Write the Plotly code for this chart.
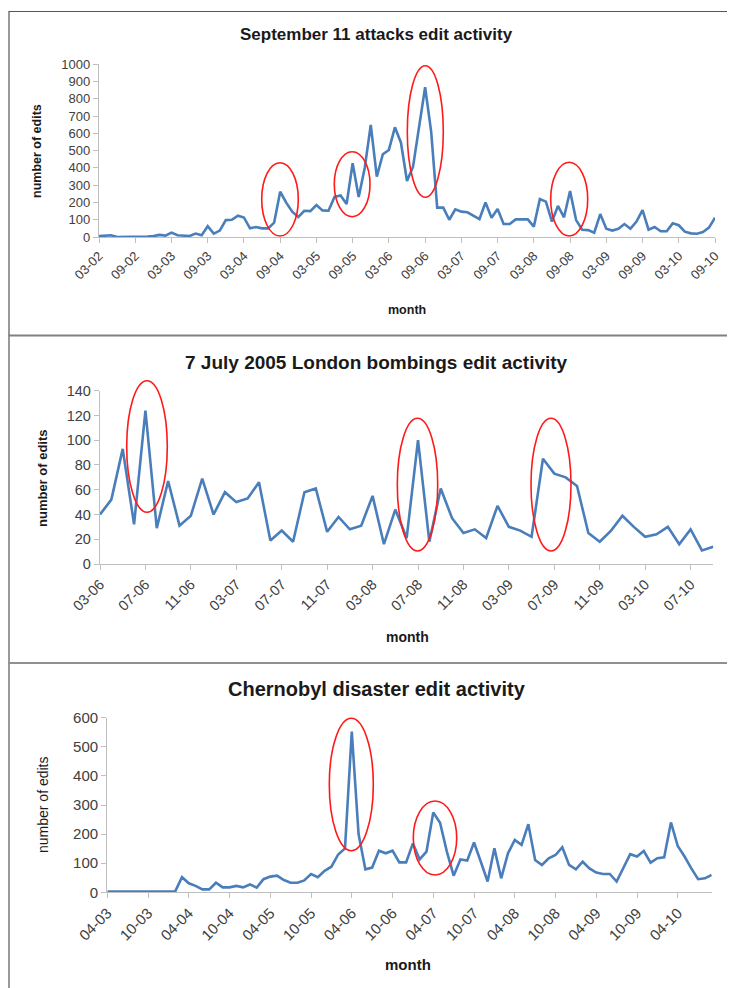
import plotly.graph_objects as go

# the page body has an 8px margin, so the figure is sized to fit inside the window
OFF = 8
W, H = 735 - OFF, 988 - OFF

# ---------------- data ----------------
sept11_edits = [5, 8, 10, 0, 0, 2, 4, 0, 3, 5, 12, 8, 25, 10, 8, 6, 20, 10, 62, 20,
                37, 98, 100, 123, 113, 50, 58, 50, 50, 83, 262, 199, 147, 116, 152, 150, 185, 154, 152, 232,
                240, 191, 427, 232, 400, 649, 350, 479, 504, 635, 546, 324, 407, 629, 867, 610, 170, 170, 100, 160,
                147, 143, 122, 104, 200, 112, 162, 75, 75, 102, 102, 102, 60, 220, 205, 89, 180, 114, 266, 98,
                42, 40, 25, 133, 48, 37, 48, 75, 48, 89, 156, 42, 58, 33, 33, 79, 68, 31, 21, 19,
                29, 54, 112]
sept11_ticks = ["03-02", "09-02", "03-03", "09-03", "03-04", "09-04", "03-05", "09-05", "03-06",
                "09-06", "03-07", "09-07", "03-08", "09-08", "03-09", "09-09", "03-10", "09-10"]

london_edits = [40, 52, 93, 32, 124, 29, 67, 31, 39, 69, 40, 58, 50, 53, 66, 19, 27, 18, 58, 61,
                26, 38, 28, 31, 55, 16, 44, 21, 100, 18, 61, 37, 25, 28, 21, 47, 30, 27, 22, 85,
                73, 70, 63, 25, 18, 27, 39, 30, 22, 24, 30, 16, 28, 11, 14]
london_ticks = ["03-06", "07-06", "11-06", "03-07", "07-07", "11-07", "03-08", "07-08", "11-08",
                "03-09", "07-09", "11-09", "03-10", "07-10"]

chernobyl_edits = [3, 3, 3, 3, 3, 3, 3, 3, 3, 3, 3, 52, 31, 22, 10, 10, 33, 17, 17, 22,
                   17, 27, 16, 45, 54, 57, 42, 33, 33, 41, 63, 52, 74, 88, 130, 151, 552, 200, 79, 85,
                   143, 134, 143, 103, 103, 168, 113, 140, 274, 239, 140, 57, 113, 109, 171, 105, 37, 151, 48, 134,
                   180, 163, 234, 111, 94, 117, 128, 155, 94, 79, 105, 82, 68, 63, 63, 37, 82, 131, 123, 142,
                   102, 117, 120, 240, 159, 123, 82, 45, 48, 60]
chernobyl_ticks = ["04-03", "10-03", "04-04", "10-04", "04-05", "10-05", "04-06", "10-06", "04-07",
                   "10-07", "04-08", "10-08", "04-09", "10-09", "04-10"]

titles = ["September 11 attacks edit activity",
          "7 July 2005 London bombings edit activity",
          "Chernobyl disaster edit activity"]

# ---------------- layout helpers (screen pixel -> paper) ----------------
def px(x):
    return (x - OFF) / W

def py(y):
    return 1 - (y - OFF) / H

LINE = "#4a7ebb"
AXIS = "#bfbfbf"
TXT = "#404040"
FONT = "Liberation Sans, Arial, sans-serif"

panels = [
    dict(data=sept11_edits, ticks=sept11_ticks, step=6, ymax=1000, dy=100,
         x0=99, x1=715, y0=237, y1=64.3, tick_font=13, title_font=17, title_y=35,
         title_x=376, ytitle_x=37, ytitle_y=151, ytitle_font=12.5, ytitle_bold=True,
         month_x=407, month_y=310, month_font=12.5),
    dict(data=london_edits, ticks=london_ticks, step=4, ymax=140, dy=20,
         x0=100, x1=713.3, y0=564, y1=390.7, tick_font=14.5, title_font=19, title_y=362,
         title_x=376, ytitle_x=42, ytitle_y=478, ytitle_font=13, ytitle_bold=True,
         month_x=407, month_y=637, month_font=14),
    dict(data=chernobyl_edits, ticks=chernobyl_ticks, step=6, ymax=600, dy=100,
         x0=107.3, x1=711.7, y0=892.3, y1=717.7, tick_font=15, title_font=20, title_y=689,
         title_x=377, ytitle_x=43, ytitle_y=805, ytitle_font=14, ytitle_bold=False,
         month_x=408, month_y=964, month_font=15),
]

fig = go.Figure()
annotations = []
for i, p in enumerate(panels):
    n = i + 1
    xs = list(range(len(p["data"])))
    fig.add_trace(go.Scatter(x=xs, y=p["data"], mode="lines",
                             line=dict(color=LINE, width=2.6),
                             xaxis="x" if n == 1 else f"x{n}",
                             yaxis="y" if n == 1 else f"y{n}",
                             showlegend=False, hoverinfo="skip"))
    xa = dict(domain=[px(p["x0"]), px(p["x1"])], range=[0, len(xs) - 1],
              anchor="y" if n == 1 else f"y{n}", automargin=False,
              tickmode="array", tickvals=list(range(0, len(p["ticks"]) * p["step"], p["step"])),
              ticktext=p["ticks"], tickangle=-45, ticks="outside", ticklen=5,
              tickcolor=AXIS, showline=True, linecolor=AXIS, linewidth=1.3,
              showgrid=False, zeroline=False,
              tickfont=dict(family=FONT, size=p["tick_font"], color=TXT))
    ya = dict(domain=[py(p["y0"]), py(p["y1"])], range=[0, p["ymax"]],
              anchor="x" if n == 1 else f"x{n}", dtick=p["dy"], tick0=0, automargin=False,
              ticks="outside", ticklen=5, tickcolor=AXIS, showline=True,
              linecolor=AXIS, linewidth=1.3, showgrid=False, zeroline=False,
              tickfont=dict(family=FONT, size=p["tick_font"], color=TXT))
    fig.update_layout(**{("xaxis" if n == 1 else f"xaxis{n}"): xa,
                         ("yaxis" if n == 1 else f"yaxis{n}"): ya})
    annotations.append(dict(text=f"<b>{titles[i]}</b>", x=px(p["title_x"]), y=py(p["title_y"]),
                            xref="paper", yref="paper", showarrow=False,
                            xanchor="center", yanchor="middle",
                            font=dict(family=FONT, size=p["title_font"], color="#1a1a1a")))
    yt = "number of edits"
    annotations.append(dict(text=f"<b>{yt}</b>" if p["ytitle_bold"] else yt,
                            x=px(p["ytitle_x"]), y=py(p["ytitle_y"]), textangle=-90,
                            xref="paper", yref="paper", showarrow=False,
                            xanchor="center", yanchor="middle",
                            font=dict(family=FONT, size=p["ytitle_font"], color="#1a1a1a")))
    annotations.append(dict(text="<b>month</b>", x=px(p["month_x"]), y=py(p["month_y"]),
                            xref="paper", yref="paper", showarrow=False,
                            xanchor="center", yanchor="middle",
                            font=dict(family=FONT, size=p["month_font"], color="#1a1a1a")))

# highlight ellipses (screen pixel boxes: x0, x1, y0, y1)
ellipses = [
    (261.7, 298.3, 162.7, 236.0), (334.3, 370.0, 151.7, 216.7),
    (407.3, 443.3, 65.7, 197.3), (550.7, 587.7, 162.3, 236.0),
    (126.7, 167.3, 380.7, 512.3), (397.3, 437.7, 418.3, 551.0),
    (531.0, 571.0, 418.3, 551.0),
    (329.3, 373.3, 718.3, 850.7), (413.3, 456.7, 801.0, 875.0),
]
shapes = []
for (a, b, c, d) in ellipses:
    shapes.append(dict(type="circle", xref="paper", yref="paper",
                       x0=px(a), x1=px(b), y0=py(d), y1=py(c),
                       line=dict(color="#ff1a1a", width=1.6)))

# panel frames
frame = "#555555"
shapes += [
    dict(type="line", xref="paper", yref="paper", x0=px(8.5), x1=1, y0=py(11.5), y1=py(11.5),
         line=dict(color=frame, width=1.2)),
    dict(type="line", xref="paper", yref="paper", x0=px(9), x1=px(9), y0=0, y1=py(11.5),
         line=dict(color=frame, width=1.2)),
    dict(type="line", xref="paper", yref="paper", x0=px(8.5), x1=1, y0=py(335.5), y1=py(335.5),
         line=dict(color="#808080", width=2)),
    dict(type="line", xref="paper", yref="paper", x0=px(8.5), x1=1, y0=py(663), y1=py(663),
         line=dict(color="#909090", width=2)),
]

fig.update_layout(template="none", width=W, height=H, margin=dict(l=0, r=0, t=0, b=0, pad=0),
                  paper_bgcolor="white", plot_bgcolor="white",
                  annotations=annotations, shapes=shapes,
                  font=dict(family=FONT))

fig.write_html("out.html")
